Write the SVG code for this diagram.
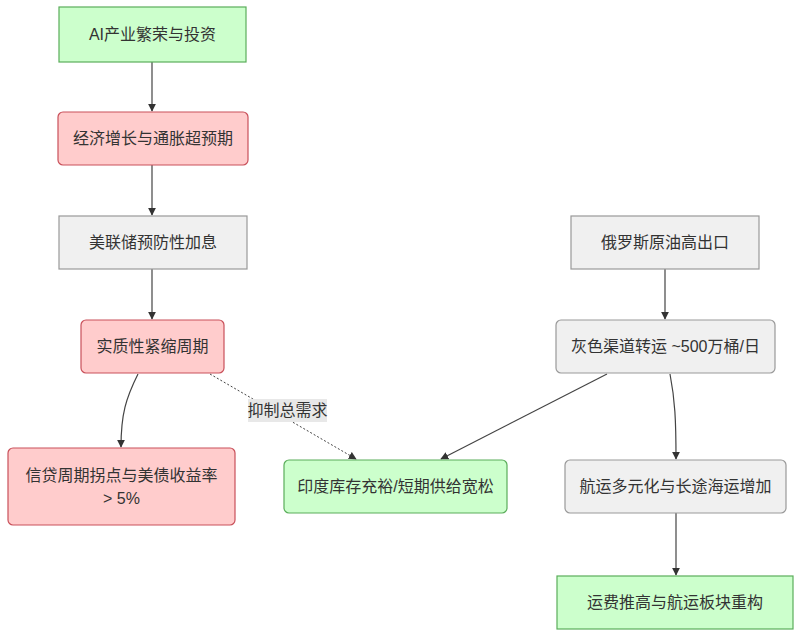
<svg xmlns="http://www.w3.org/2000/svg" width="801" height="638" viewBox="0 0 801 638">
<style>
text{font-family:"Liberation Sans","Noto Sans CJK SC",sans-serif;font-size:16px;fill:#333;text-anchor:middle;dominant-baseline:central}
.g{fill:#ccffcc;stroke:#5aad5a;stroke-width:1.2}
.r{fill:#ffcccc;stroke:#c9505a;stroke-width:1.2}
.n{fill:#f0f0f0;stroke:#999;stroke-width:1.2}
.e{fill:none;stroke:#444;stroke-width:1.2}
.d{fill:none;stroke:#444;stroke-width:1;stroke-dasharray:2 2}
</style>
<defs>
<marker id="ah" viewBox="0 0 10 10" refX="9" refY="5" markerWidth="8" markerHeight="8" markerUnits="userSpaceOnUse" orient="auto"><path d="M0,0L10,5L0,10z" fill="#333"/></marker>
</defs>
<rect width="801" height="638" fill="#fff"/>
<g id="edges">
<path class="e" d="M152,62V111" marker-end="url(#ah)"/>
<path class="e" d="M152,165V215" marker-end="url(#ah)"/>
<path class="e" d="M152,269V319" marker-end="url(#ah)"/>
<path class="e" d="M138,374C126,398 121,414 121,447" marker-end="url(#ah)"/>
<path class="d" d="M210,374L356,459" marker-end="url(#ah)"/>
<path class="e" d="M607,374L441,459" marker-end="url(#ah)"/>
<path class="e" d="M665,269V319" marker-end="url(#ah)"/>
<path class="e" d="M670,374C675,400 676,420 676,459" marker-end="url(#ah)"/>
<path class="e" d="M676,513V575" marker-end="url(#ah)"/>
<g id="lbl"><rect x="248" y="399" width="79" height="23" fill="#e8e8e8"/><text x="287.5" y="410.5">抑制总需求</text></g>
</g>
<g id="A"><rect class="g" x="59" y="7" width="187" height="55"/><text x="152.5" y="34.5">AI产业繁荣与投资</text></g>
<g id="B"><rect class="r" x="58" y="112" width="190" height="53" rx="5"/><text x="153" y="138.5">经济增长与通胀超预期</text></g>
<g id="C"><rect class="n" x="59" y="216" width="188" height="53"/><text x="153" y="242.5">美联储预防性加息</text></g>
<g id="D"><rect class="r" x="81" y="320" width="143" height="53" rx="5"/><text x="152.5" y="346.5">实质性紧缩周期</text></g>
<g id="E"><rect class="r" x="8" y="448" width="227" height="77" rx="5"/><text x="121.5" y="475">信贷周期拐点与美债收益率</text><text x="121.5" y="498">&gt; 5%</text></g>
<g id="F"><rect class="g" x="284" y="460" width="223" height="53" rx="5"/><text x="395.5" y="486.5">印度库存充裕/短期供给宽松</text></g>
<g id="G"><rect class="n" x="571" y="216" width="188" height="53"/><text x="665" y="242.5">俄罗斯原油高出口</text></g>
<g id="H"><rect class="n" x="556" y="320" width="219" height="53" rx="5"/><text x="665.5" y="346.5">灰色渠道转运 ~500万桶/日</text></g>
<g id="I"><rect class="n" x="565" y="460" width="221" height="53" rx="5"/><text x="675.5" y="486.5">航运多元化与长途海运增加</text></g>
<g id="J"><rect class="g" x="557" y="576" width="236" height="53"/><text x="675" y="602.5">运费推高与航运板块重构</text></g>
</svg>
